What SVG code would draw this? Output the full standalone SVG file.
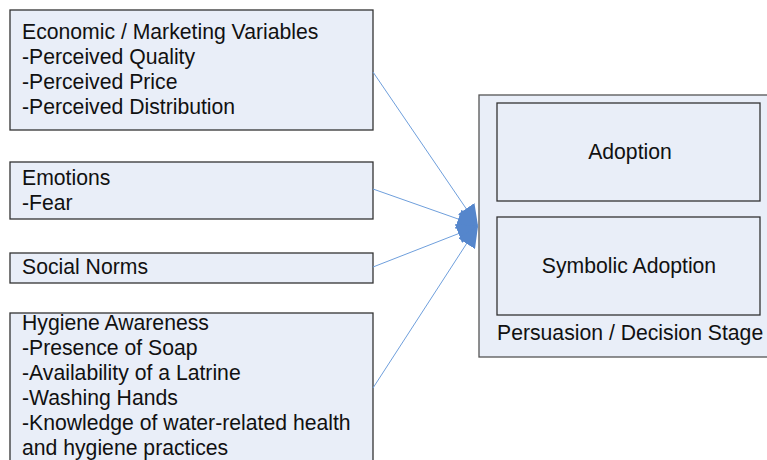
<svg xmlns="http://www.w3.org/2000/svg" width="767" height="460" viewBox="0 0 767 460">
<style>
.box{fill:#e9eef8;stroke:#333;stroke-width:1.3}
.outer{fill:#e9eef8;stroke:#555;stroke-width:1.3}
.t{font-family:"Liberation Sans",Arial,sans-serif;font-size:21.2px;fill:#111}
.c{stroke:#6f9fdc;stroke-width:1;fill:none;marker-end:url(#ah)}
</style>
<defs>
<marker id="ah" markerUnits="userSpaceOnUse" markerWidth="22" markerHeight="20" refX="21" refY="10" orient="auto" viewBox="0 0 22 20">
<path d="M0,0 L21,10 L0,20 z" fill="#5586cc"/>
</marker>
</defs>
<rect width="767" height="460" fill="#fff"/>
<g id="economic">
<rect class="box" x="10" y="10" width="363" height="120"/>
<text class="t" x="22" y="39">Economic / Marketing Variables</text>
<text class="t" x="22" y="64">-Perceived Quality</text>
<text class="t" x="22" y="89">-Perceived Price</text>
<text class="t" x="22" y="114">-Perceived Distribution</text>
</g>
<g id="emotions">
<rect class="box" x="10" y="162" width="363" height="57"/>
<text class="t" x="22" y="185">Emotions</text>
<text class="t" x="22" y="210">-Fear</text>
</g>
<g id="social">
<rect class="box" x="10" y="253" width="363" height="30"/>
<text class="t" x="22" y="274">Social Norms</text>
</g>
<g id="hygiene">
<rect class="box" x="10" y="313" width="363" height="160"/>
<text class="t" x="22" y="330">Hygiene Awareness</text>
<text class="t" x="22" y="355">-Presence of Soap</text>
<text class="t" x="22" y="380">-Availability of a Latrine</text>
<text class="t" x="22" y="405">-Washing Hands</text>
<text class="t" x="22" y="430">-Knowledge of water-related health</text>
<text class="t" x="22" y="455">and hygiene practices</text>
</g>
<g id="stage">
<rect class="outer" x="479" y="95" width="295" height="262"/>
<text class="t" x="497" y="340">Persuasion / Decision Stage</text>
</g>
<g id="adoption">
<rect class="box" x="497" y="103" width="263" height="98"/>
<text class="t" x="630" y="159" text-anchor="middle">Adoption</text>
</g>
<g id="symbolic">
<rect class="box" x="497" y="217" width="263" height="98"/>
<text class="t" x="629" y="273" text-anchor="middle">Symbolic Adoption</text>
</g>
<g id="connectors">
<line class="c" x1="373" y1="72" x2="478" y2="226"/>
<line class="c" x1="373" y1="189" x2="478" y2="226"/>
<line class="c" x1="373" y1="267" x2="478" y2="226"/>
<line class="c" x1="373" y1="388" x2="478" y2="226"/>
</g>
</svg>
